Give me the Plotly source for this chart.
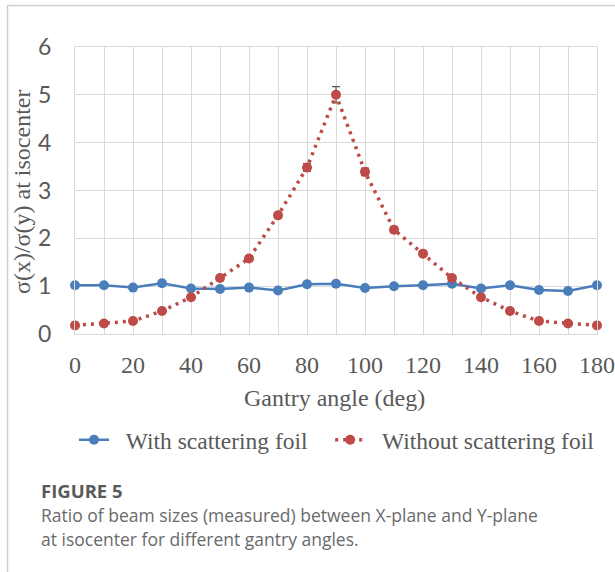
import plotly.graph_objects as go

angles = [0, 10, 20, 30, 40, 50, 60, 70, 80, 90, 100, 110, 120, 130, 140, 150, 160, 170, 180]
with_foil = [1.02, 1.02, 0.97, 1.06, 0.95, 0.94, 0.97, 0.91, 1.04, 1.05, 0.96, 1.00, 1.02, 1.05, 0.95, 1.02, 0.92, 0.90, 1.02]
without_foil = [0.18, 0.22, 0.27, 0.48, 0.77, 1.17, 1.58, 2.48, 3.48, 5.0, 3.39, 2.18, 1.68, 1.17, 0.77, 0.48, 0.27, 0.22, 0.18]
without_err = [0.03, 0.03, 0.03, 0.04, 0.05, 0.05, 0.05, 0.06, 0.08, 0.17, 0.08, 0.06, 0.05, 0.05, 0.05, 0.04, 0.03, 0.03, 0.03]
x_ticks = [0, 20, 40, 60, 80, 100, 120, 140, 160, 180]
y_ticks = [0, 1, 2, 3, 4, 5, 6]
series_names = ["With scattering foil", "Without scattering foil"]

BLUE = "#4A7EBB"
RED = "#BE4B48"
GRID = "#d9d9d9"
TXT = "#595959"
SERIF = "Liberation Serif, Times New Roman, serif"
NB = "\u00a0"

W, H = 615, 572
L, R, T, B = 75, 597, 47, 334
pw, ph = R - L, B - T

def px(x):
    return (x - L) / pw

def py(y):
    return (B - y) / ph

fig = go.Figure()
fig.add_trace(go.Scatter(
    x=angles, y=with_foil, name=NB * 2 + series_names[0] + NB * 3, mode="lines+markers",
    line=dict(color=BLUE, width=2.5), marker=dict(color=BLUE, size=10),
    cliponaxis=False,
))
fig.add_trace(go.Scatter(
    x=angles, y=without_foil, name=NB * 2 + series_names[1], mode="lines+markers",
    line=dict(color=RED, width=3.5, dash="3px,5px"), marker=dict(color=RED, size=10),
    error_y=dict(type="data", array=without_err, color=TXT, thickness=1.2, width=4),
    cliponaxis=False,
))

fig.update_layout(
    width=W, height=H,
    margin=dict(l=L, r=W - R, t=T, b=H - B, autoexpand=False),
    paper_bgcolor="white", plot_bgcolor="white",
    showlegend=True,
    legend=dict(orientation="h", x=px(74), xanchor="left",
                y=py(440), yanchor="middle",
                font=dict(family=SERIF, size=23.5, color=TXT), itemwidth=30,
                bgcolor="rgba(0,0,0,0)"),
    xaxis=dict(range=[0, 180], tickvals=x_ticks, ticktext=[str(v) for v in x_ticks],
               showgrid=True, gridcolor=GRID, gridwidth=1.3, zeroline=False,
               showline=True, linecolor=GRID, linewidth=1.3, mirror=True,
               minor=dict(dtick=10, tick0=0, showgrid=True, gridcolor=GRID, gridwidth=1.3),
               tickfont=dict(family=SERIF, size=24, color=TXT), ticklabelstandoff=9),
    yaxis=dict(range=[0, 6], tickvals=y_ticks, showgrid=True, gridcolor=GRID, gridwidth=1.3,
               zeroline=False, showline=True, linecolor=GRID, linewidth=1.3, mirror=True,
               tickfont=dict(family="Lato, Open Sans, sans-serif", size=23, color=TXT),
               ticklabelstandoff=18),
    font=dict(family=SERIF, color=TXT),
)

annotations = [
    dict(text="σ(x)/σ(y) at isocenter", xref="paper", yref="paper", x=px(22), y=py(192),
         textangle=-90, showarrow=False, xanchor="center", yanchor="middle",
         font=dict(family=SERIF, size=24, color=TXT)),
    dict(text="Gantry angle (deg)", xref="paper", yref="paper", x=px(334), y=py(398),
         showarrow=False, xanchor="center", yanchor="middle",
         font=dict(family=SERIF, size=24, color=TXT)),
    dict(text="<b>FIGURE 5</b>", xref="paper", yref="paper", x=px(39), y=py(490),
         showarrow=False, xanchor="left", yanchor="middle",
         font=dict(family="Open Sans, sans-serif", size=18.5, color="#5a5a5a")),
    dict(text="Ratio of beam sizes (measured) between X-plane and Y-plane", xref="paper", yref="paper",
         x=px(39), y=py(515), showarrow=False, xanchor="left", yanchor="middle",
         font=dict(family="Open Sans, sans-serif", size=17.5, color="#6a6a6a")),
    dict(text="at isocenter for different gantry angles.", xref="paper", yref="paper",
         x=px(39), y=py(539), showarrow=False, xanchor="left", yanchor="middle",
         font=dict(family="Open Sans, sans-serif", size=17.5, color="#6a6a6a")),
]
fig.update_layout(annotations=annotations)

fig.update_layout(shapes=[
    dict(type="line", xref="paper", yref="paper", x0=px(7), x1=px(615), y0=py(5.5), y1=py(5.5),
         line=dict(color="#cfcfcf", width=1.5)),
    dict(type="line", xref="paper", yref="paper", x0=px(7.5), x1=px(7.5), y0=py(5), y1=py(572),
         line=dict(color="#cfcfcf", width=1.5)),
])

fig.write_html("out.html", config={"displayModeBar": False},
               post_script="document.body.style.margin='0';document.body.style.overflow='hidden';")
